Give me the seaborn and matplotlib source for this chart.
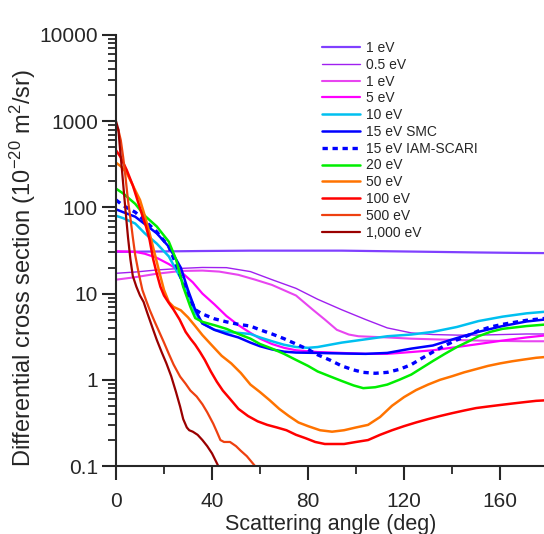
import numpy as np
import pandas as pd
import seaborn as sns
import matplotlib.pyplot as plt

# ---- data (angle in deg, DCS in 1e-20 m^2/sr) ----
ang_1ev_a = [0, 17, 36, 56, 75, 94, 113, 132, 151, 170, 180]
dcs_1ev_a = [30.5, 30.8, 31.2, 31.5, 31.5, 31.5, 31, 30.5, 30, 29.6, 29.5]

ang_05ev = [0, 8, 17, 27, 36, 46, 56, 65, 75, 84, 94, 104, 113, 123, 132, 142, 151, 161, 171, 180]
dcs_05ev = [17.2, 17.8, 18.8, 19.6, 20.1, 20, 18, 14.5, 11.5, 8.6, 6.5, 5, 4, 3.5, 3.35, 3.3, 3.3, 3.35, 3.4, 3.4]

ang_1ev_b = [0, 8, 17, 27, 36, 43, 51, 58, 65, 75, 82, 87, 92, 97, 101, 113, 123, 132, 151, 170, 180]
dcs_1ev_b = [14.5, 15.5, 17, 18.3, 18.5, 18, 16.5, 14.5, 12.6, 9.5, 6.5, 5, 3.8, 3.35, 3.2, 3.1, 3, 2.95, 2.85, 2.8, 2.8]

ang_5ev = [0, 8, 12, 17, 22, 27, 32, 36, 41, 46, 51, 56, 60, 65, 70, 75, 84, 94, 104, 113, 123, 132, 142, 151, 161, 171, 180]
dcs_5ev = [31, 30.5, 29, 26, 22, 18, 13.5, 10, 7.5, 5.5, 4.3, 3.5, 3.0, 2.6, 2.35, 2.2, 2.1, 2.05, 2.0, 2.0, 2.1, 2.2, 2.4, 2.6, 2.85, 3.1, 3.3]

ang_10ev = [0, 3, 8, 12, 17, 22, 27, 30, 33, 36, 41, 46, 51, 56, 60, 65, 70, 75, 80, 84, 94, 104, 113, 123, 132, 142, 151, 161, 171, 180]
dcs_10ev = [80, 75, 65, 50, 38, 27, 15, 10, 6, 4.5, 3.8, 3.6, 3.5, 3.4, 3.1, 2.8, 2.55, 2.4, 2.35, 2.4, 2.7, 2.95, 3.2, 3.35, 3.6, 4.1, 4.8, 5.4, 5.9, 6.2]

ang_15ev = [0, 3, 8, 12, 17, 22, 27, 30, 33, 36, 41, 46, 51, 56, 60, 65, 70, 75, 84, 94, 104, 113, 123, 132, 142, 151, 161, 171, 180]
dcs_15ev = [95, 88, 78, 64, 50, 35, 20, 11, 6.5, 4.5, 3.8, 3.4, 3.1, 2.7, 2.45, 2.25, 2.12, 2.07, 2.05, 2.02, 2.0, 2.05, 2.3, 2.5, 3.05, 3.6, 4.2, 4.75, 5.05]

ang_iam = [0, 3, 8, 12, 17, 22, 25, 28, 31, 33, 36, 41, 46, 51, 56, 60, 65, 70, 75, 80, 84, 89, 94, 99, 103, 108, 113, 118, 123, 127, 132, 137, 142, 147, 151, 156, 161, 171, 180]
dcs_iam = [122, 105, 88, 70, 52, 35, 22, 13, 8.5, 6.5, 5.8, 5.1, 4.7, 4.4, 4.2, 3.8, 3.4, 3.0, 2.6, 2.25, 1.95, 1.7, 1.45, 1.3, 1.22, 1.19, 1.22, 1.32, 1.5, 1.75, 2.1, 2.5, 2.9, 3.3, 3.7, 4.1, 4.4, 4.9, 5.2]

ang_20ev = ang_iam
dcs_20ev = [165, 145, 110, 80, 60, 40, 25, 12, 7, 5.2, 4.7, 4.3, 3.9, 3.4, 3.0, 2.6, 2.3, 2.0, 1.7, 1.45, 1.25, 1.1, 0.97, 0.86, 0.8, 0.82, 0.88, 1.0, 1.15, 1.35, 1.65, 2.0, 2.4, 2.8, 3.2, 3.6, 3.9, 4.2, 4.4]

ang_50ev = [0, 2, 4.5, 7, 10, 12, 14, 16, 18, 20, 22, 24, 27, 30, 33, 36, 40, 44, 48, 52, 56, 60, 64, 68, 72, 76, 80, 85, 90, 95, 100, 105, 110, 115, 120, 125, 130, 135, 140, 145, 150, 155, 160, 165, 170, 175, 180]
dcs_50ev = [330, 300, 250, 180, 122, 80, 50, 30, 18, 11, 8, 7, 6.4, 5.3, 4.2, 3.3, 2.5, 1.9, 1.55, 1.2, 0.88, 0.72, 0.58, 0.46, 0.38, 0.32, 0.29, 0.26, 0.25, 0.26, 0.28, 0.3, 0.37, 0.5, 0.63, 0.76, 0.88, 1.0, 1.1, 1.22, 1.33, 1.45, 1.55, 1.64, 1.72, 1.8, 1.85]

ang_100ev = [0, 2, 4.5, 7, 9, 11, 12.5, 14, 15.5, 17, 18.5, 20, 22, 24, 26.5, 29, 31, 33, 35, 37, 39.5, 42, 44.5, 47.5, 51, 55, 59, 63, 67, 71, 75, 79, 83, 87, 91, 95, 100, 105, 110, 115, 120, 125, 130, 135, 140, 145, 150, 155, 160, 165, 170, 175, 180]
dcs_100ev = [460, 380, 270, 180, 120, 80, 60, 42, 25, 17, 12, 9.5, 7.8, 6.5, 5, 3.6, 3, 2.55, 2.1, 1.7, 1.25, 0.95, 0.75, 0.6, 0.46, 0.38, 0.33, 0.3, 0.28, 0.26, 0.23, 0.21, 0.19, 0.18, 0.18, 0.18, 0.19, 0.2, 0.23, 0.26, 0.29, 0.32, 0.35, 0.38, 0.41, 0.44, 0.47, 0.49, 0.51, 0.53, 0.55, 0.57, 0.58]

ang_500ev = [0, 1, 2, 3, 4, 5, 6, 7, 8, 9.5, 11, 12.5, 14, 16, 18, 20, 22, 24, 26.7, 29, 31, 33.6, 36, 38, 40.5, 42, 43.5, 45, 47.5, 50, 52, 54.5, 57.9, 60]
dcs_500ev = [800, 790, 600, 380, 220, 120, 75, 45, 28, 17, 11, 8.4, 6.5, 4.8, 3.6, 2.7, 2.0, 1.5, 1.09, 0.9, 0.75, 0.64, 0.52, 0.42, 0.31, 0.25, 0.2, 0.19, 0.19, 0.17, 0.15, 0.13, 0.1, 0.09]

ang_1000ev = [0, 1, 1.7, 2.5, 3.2, 4, 5, 6, 7, 8.5, 10, 11.5, 13, 15.5, 17, 19, 21, 23, 25, 26.7, 28, 29.5, 30.5, 32, 34, 36, 38, 40, 42.6, 44]
dcs_1000ev = [1000, 800, 470, 270, 160, 90, 45, 25, 16, 12, 9.5, 8, 6, 3.8, 2.9, 2.1, 1.55, 1.1, 0.72, 0.49, 0.35, 0.28, 0.26, 0.25, 0.23, 0.2, 0.17, 0.14, 0.1, 0.085]

labels = ['1 eV', '0.5 eV', '1 eV', '5 eV', '10 eV', '15 eV SMC', '15 eV IAM-SCARI',
          '20 eV', '50 eV', '100 eV', '500 eV', '1,000 eV']

series = [
    (ang_1ev_a, dcs_1ev_a, '#8040ff', 1.6, '-'),
    (ang_05ev, dcs_05ev, '#a020f0', 1.0, '-'),
    (ang_1ev_b, dcs_1ev_b, '#e845f0', 1.5, '-'),
    (ang_5ev, dcs_5ev, '#ff00ff', 1.6, '-'),
    (ang_10ev, dcs_10ev, '#00c0f0', 1.8, '-'),
    (ang_15ev, dcs_15ev, '#0000ff', 1.8, '-'),
    (ang_iam, dcs_iam, '#0000ff', 2.4, (0, (1.6, 1.4))),
    (ang_20ev, dcs_20ev, '#00ee00', 1.8, '-'),
    (ang_50ev, dcs_50ev, '#ff7300', 1.8, '-'),
    (ang_100ev, dcs_100ev, '#ff0000', 1.8, '-'),
    (ang_500ev, dcs_500ev, '#ee4010', 1.6, '-'),
    (ang_1000ev, dcs_1000ev, '#9a0000', 1.6, '-'),
]

sns.set_style('ticks')
plt.rcParams['font.family'] = ['Liberation Sans', 'DejaVu Sans']
plt.rcParams['mathtext.default'] = 'regular'

fig = plt.figure(figsize=(5.44, 5.34), dpi=100)
ax = fig.add_axes([116 / 544, 68 / 534, 428 / 544, 431 / 534])

for (x, y, c, lw, ls), lab in zip(series, labels):
    sns.lineplot(x=x, y=y, ax=ax, color=c, lw=lw, linestyle=ls, label=lab,
                 sort=False, estimator=None)

ax.set_yscale('log')
ax.set_xlim(0, 178.3)
ax.set_ylim(0.1, 10000)
ax.set_xticks([0, 40, 80, 120, 160])
ax.set_xticks([20, 60, 100, 140], minor=True)
ax.set_yticks([0.1, 1, 10, 100, 1000, 10000])
ax.set_yticklabels(['0.1', '1', '10', '100', '1000', '10000'])
ax.tick_params(which='major', length=10, width=1.5, labelsize=15, direction='out')
ax.tick_params(which='minor', length=5.5, width=1.3, direction='out')
ax.tick_params(axis='y', which='major', pad=3)
ax.tick_params(axis='x', which='major', pad=9)
sns.despine(ax=ax)
for s in ['left', 'bottom']:
    ax.spines[s].set_linewidth(1.5)

ax.set_xlabel('Scattering angle (deg)', fontsize=15.5)
ax.set_ylabel('Differential cross section (10$^{-20}$ m$^2$/sr)', fontsize=17)
ax.xaxis.set_label_coords(0.502, -0.112)
ax.yaxis.set_label_coords(-0.183, 0.46)

ax.legend(loc='upper left', bbox_to_anchor=(322 / 544, 1 - 41 / 534),
          bbox_transform=fig.transFigure, frameon=False, fontsize=10,
          handlelength=2.7, handletextpad=0.45, labelspacing=0.2, borderpad=0,
          borderaxespad=0)

fig.savefig('out.png', dpi=100)
